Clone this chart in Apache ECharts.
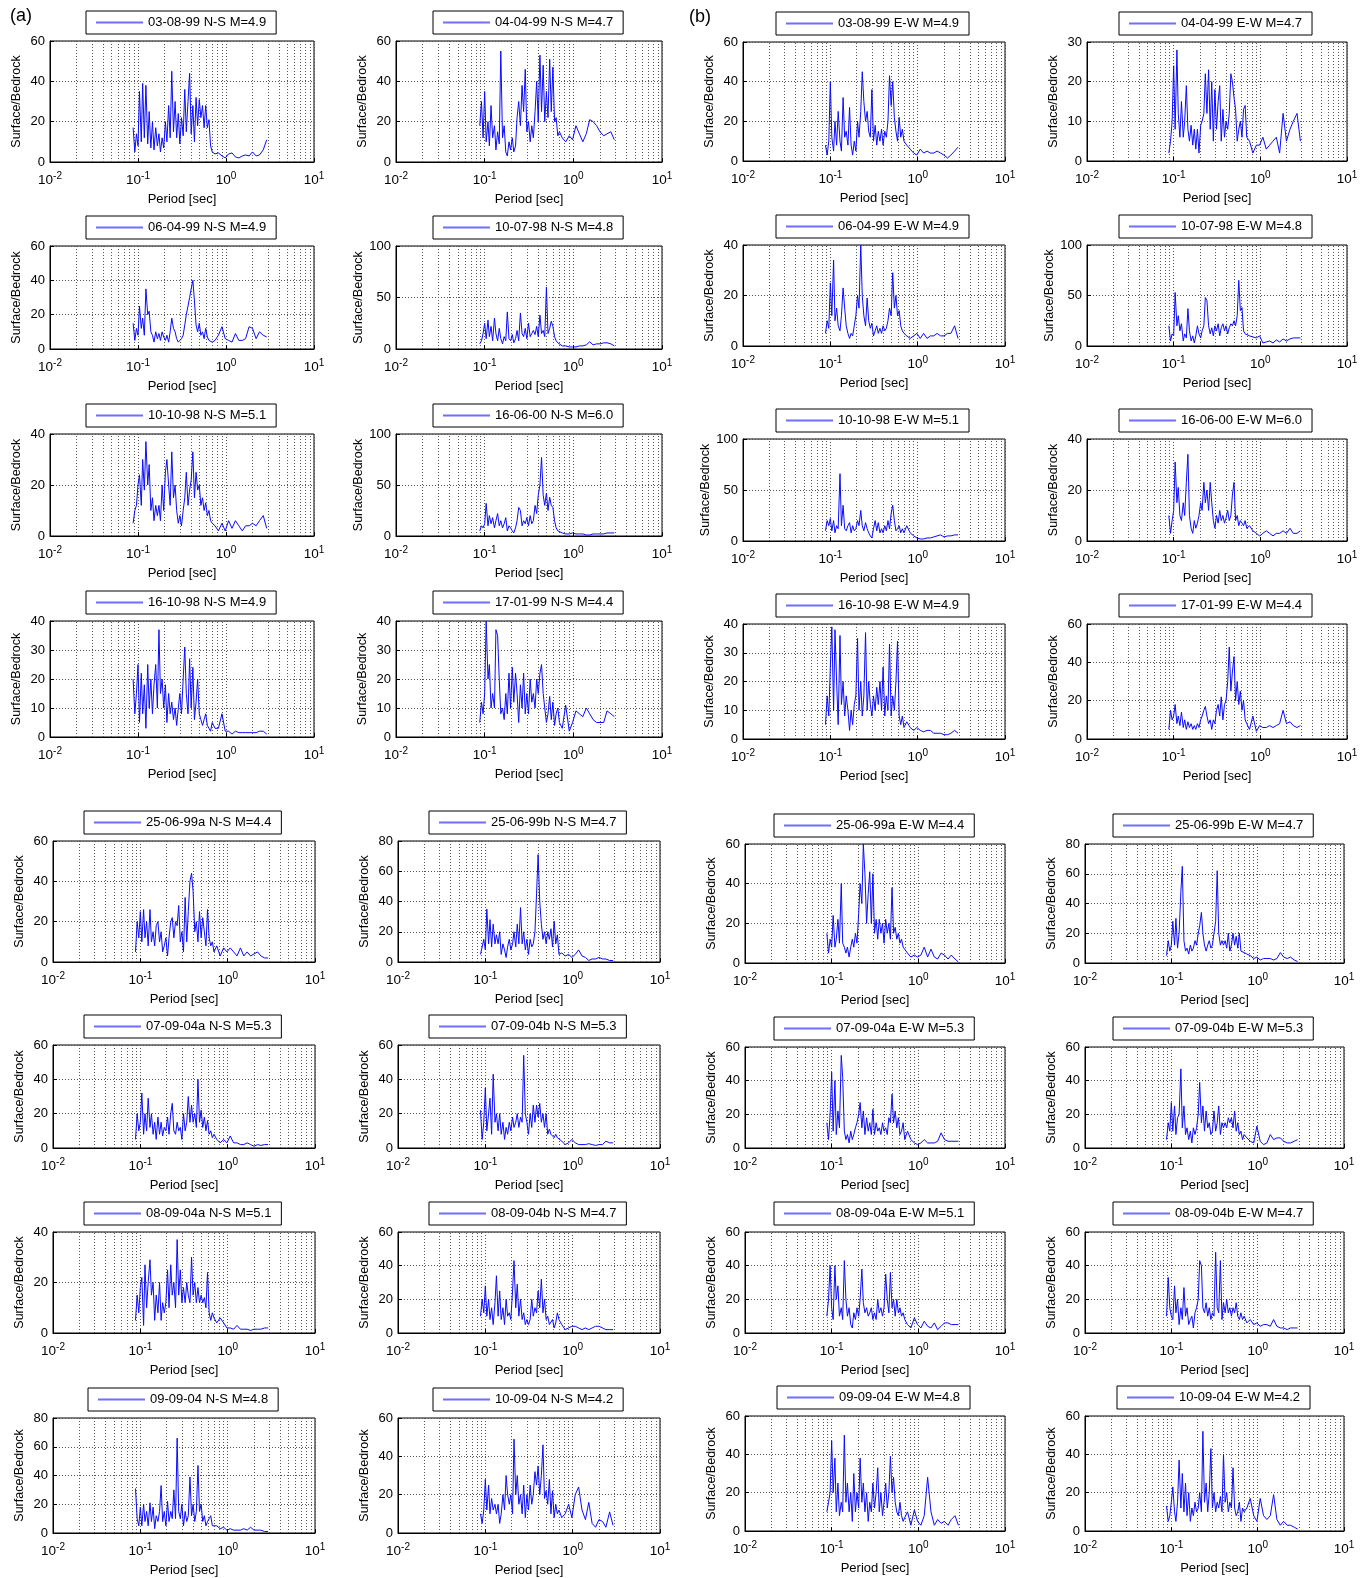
<!DOCTYPE html>
<html>
<head>
<meta charset="utf-8">
<title>Surface/Bedrock spectral ratios</title>
<script src="https://cdn.jsdelivr.net/npm/echarts@6/dist/echarts.min.js"></script>
<style>
  html, body { margin: 0; padding: 0; background: #ffffff; }
  #chart { width: 1364px; height: 1578px; }
</style>
</head>
<body>
<div id="chart"></div>
<script>
// Period samples [sec] shared by every spectral ratio curve
const periods = [
  0.088, 0.092, 0.096, 0.100, 0.104, 0.109, 0.113, 0.118, 0.123, 0.129,
  0.134, 0.140, 0.146, 0.152, 0.159, 0.166, 0.173, 0.180, 0.188, 0.196,
  0.205, 0.213, 0.223, 0.232, 0.242, 0.253, 0.264, 0.275, 0.287, 0.299,
  0.312, 0.326, 0.340, 0.354, 0.370, 0.386, 0.402, 0.420, 0.438, 0.457,
  0.476, 0.497, 0.518, 0.541, 0.564, 0.588, 0.614, 0.640, 0.668, 0.697,
  0.75, 0.82, 0.90, 0.98, 1.07, 1.17, 1.28, 1.40, 1.53, 1.67,
  1.83, 2.00, 2.20, 2.40, 2.65, 2.90
];

// Minor (2..9) decade lines of the log grid
const minorPeriods = [0.02, 0.03, 0.04, 0.05, 0.06, 0.07, 0.08, 0.09,
                      0.2, 0.3, 0.4, 0.5, 0.6, 0.7, 0.8, 0.9,
                      2, 3, 4, 5, 6, 7, 8, 9];

// ---- (a) N-S component ratios ----
const ns_030899 = [17,5,14,8,35,10,39,12,38,9, 25,7,20,6,17,8,14,5,12,7, 20,10,28,12,45,15,30,12,24,9, 22,13,36,15,30,44,14,28,10,32, 18,31,22,28,17,28,17,21,8,5, 4,4.5,3,2,4,4.5,2.5,2,3,3.5, 3,5,3,3.5,6,11];
const ns_040499 = [18,30,12,35,10,20,8,28,12,18, 6,15,9,55,12,18,5,3,10,6, 12,5,8,22,30,18,38,25,46,15, 20,10,18,12,25,40,20,53,25,48, 20,35,22,51,25,47,20,22,13,15, 12,10,13,11,18,14,10,14,21,20, 18,15,13,14,15,11];
const ns_060499 = [15,5,12,8,25,12,18,8,35,20, 22,10,8,4,10,6,9,5,10,7, 5,8,4,10,18,12,10,6,4,3, 6,8,14,20,25,30,35,40,28,14, 10,15,8,10,6,12,7,5,6,4, 5,8,13,6,5,4,9,5,5,6, 13,12,6,10,8,7];
const ns_100798 = [5,8,15,25,10,28,12,22,8,30, 15,8,20,10,5,12,8,36,10,8, 14,6,10,18,8,35,15,12,20,10, 25,12,15,18,14,22,12,33,15,18, 12,60,15,20,27,22,12,8,6,5, 3,3,2,2,2,3,3,4,7,4, 5,5,6,6,5,3];
const ns_101098 = [5,10,12,20,24,12,30,18,37,20, 28,10,15,6,12,8,12,6,20,10, 25,30,20,12,33,15,20,10,5,8, 4,10,15,25,12,18,22,33,15,25, 18,20,12,15,10,13,8,10,6,5, 4,2,5,2,6,3,6,4,2,4, 4,5,4,6,8,3];
const ns_160600 = [5,10,8,12,32,10,20,12,18,8, 15,22,10,15,8,12,18,5,10,8, 5,3,8,15,28,25,10,15,12,18, 10,20,12,15,30,22,40,50,77,40, 30,42,25,38,30,28,15,8,5,4, 3,2,2,3,2,2,2,1,1,2, 2,2,2,3,3,3];
const ns_161098 = [20,8,15,25,5,22,8,18,3,25, 10,20,8,18,25,10,37,15,20,10, 18,5,15,8,12,6,10,4,10,15, 8,20,31,15,8,27,10,24,6,12, 20,8,6,4,6,8,4,3,2,5, 3,3,8,2,2,1,2,1.5,1.5,1.5, 1.5,1.5,1.5,2,2,1];
const ns_170199 = [5,12,8,15,40,20,25,10,15,10, 37,35,20,8,10,6,15,8,22,10, 24,12,22,15,5,18,10,22,8,15, 8,20,12,15,10,20,15,22,25,15, 10,5,8,14,6,12,4,8,10,5, 3,11,2,5,9,8,7,10,8,6, 5,5,5,9,8,7];
const ns_250699a = [5,20,12,25,10,26,12,20,8,26, 10,15,8,18,20,10,15,5,8,12, 3,12,20,22,12,20,18,28,10,15, 5,32,10,25,40,44,35,15,20,10, 25,12,22,15,8,26,12,8,10,5, 8,3,7,5,7,5,3,7,3,5, 3,4,5,3,2,2];
const ns_250699b = [5,10,15,8,35,12,28,10,25,12, 18,12,20,5,12,8,3,10,15,8, 12,20,10,25,12,36,12,20,8,15, 5,15,10,12,20,45,71,40,25,15, 20,12,20,15,22,10,27,12,18,5, 6,4,5,3,5,8,4,3,1,2, 2,3,2,2,1,1];
const ns_070904a = [5,20,10,15,32,8,20,10,29,12, 20,8,15,5,18,8,15,7,12,10, 18,8,20,26,10,8,15,10,12,5, 20,10,15,30,15,25,15,20,12,40, 15,22,12,18,10,16,8,10,6,8, 5,3,5,3,7,3,3,2,2,3, 2,1,2,1.5,2,2];
const ns_070904b = [22,5,15,35,10,20,29,8,43,15, 20,10,20,8,15,5,12,8,15,10, 18,12,15,20,12,18,15,54,20,15, 8,20,12,25,15,25,18,26,15,20, 12,20,8,11,8,9,6,8,6,5, 4,2,3,5,3,2,2,2,2.5,2, 1.5,2,2,4,3,3];
const ns_080904a = [5,15,8,18,22,3,27,10,20,29, 15,20,5,15,8,20,5,12,8,12, 25,10,27,15,20,10,37,15,25,12, 18,12,20,15,12,30,15,20,12,18, 12,15,12,14,10,24,8,5,8,6, 4,6,4,2,2,1.5,3,1.5,1.5,1.5, 1,1.5,1.5,1.5,2,2];
const ns_080904b = [10,20,12,28,10,20,8,15,5,18, 34,10,25,8,15,5,20,10,12,8, 25,43,15,29,10,20,8,12,5,8, 5,8,20,10,15,12,25,15,32,12, 20,8,10,5,6,8,3,6,12,8, 5,2,3,4,4,3,2,3,2,3, 4,4,3,2,2,2];
const ns_090904 = [31,10,5,18,5,20,8,15,5,21, 8,18,3,12,8,15,33,8,15,5, 22,8,15,10,30,10,66,15,10,20, 5,15,8,12,39,12,20,8,15,47, 15,20,8,12,5,8,10,12,5,6, 5,3,4,2,3,2,2,2,3,2, 4,2,2,2,1,1];
const ns_100904 = [10,5,12,28,12,25,10,18,12,15, 10,15,5,10,20,12,30,20,15,20, 10,49,20,30,15,20,10,25,8,20, 12,25,15,20,32,25,35,20,30,46, 18,22,15,28,10,22,8,15,10,12, 8,10,15,8,20,24,12,7,16,5, 3,7,6,3,11,4];

// ---- (b) E-W component ratios ----
const ew_030899 = [8,3,10,40,12,5,20,8,25,10, 5,32,12,15,8,27,8,3,10,5, 20,12,25,45,30,20,25,15,12,36, 10,18,8,15,10,16,8,15,12,20, 43,28,40,22,15,10,22,12,16,10, 8,6,4,3,6,4,5,4,4,5, 4,3,1.5,3,5,7];
const ew_040499 = [2,5,10,24,8,28,12,6,15,6, 10,19,8,5,9,4,8,3,8,2, 9,10,12,22,12,23,8,20,5,18, 8,15,19,5,13,6,10,8,12,22, 20,16,13,5,8,10,6,13,14,6, 5,2,4,4,6,3,4,5,6,2, 12,5,8,10,12,5];
const ew_060499 = [5,10,7,25,12,34,10,15,8,6, 12,23,15,8,5,3,5,4,8,12, 20,15,40,20,12,8,19,10,7,9, 4,6,8,5,7,5,8,6,7,10, 15,12,29,15,20,12,14,8,6,5, 4,3,4,5,3,5,3,4,4,5, 4,4,5,5,8,3];
const ew_100798 = [20,5,12,10,53,20,30,15,22,5, 12,8,37,15,5,10,3,10,20,12, 8,15,20,48,45,20,12,18,10,20, 15,22,10,18,22,15,20,12,18,22, 20,25,20,30,65,35,38,15,12,12, 10,9,8,10,3,4,5,3,6,4, 7,5,7,8,8,8];
const ew_101098 = [10,20,15,22,10,20,8,15,12,66, 15,35,12,10,15,18,8,15,10,12, 20,15,30,15,10,18,12,8,5,3, 12,20,10,18,8,12,8,15,10,20, 12,27,35,20,10,12,15,8,12,8, 15,8,5,3,2,2,3,3,4,5, 6,4,5,5,6,6];
const ew_160600 = [10,3,8,12,31,15,21,10,8,15, 10,23,34,10,5,3,8,5,7,10, 15,12,23,15,20,12,23,15,8,5, 10,7,12,8,10,7,9,12,8,10, 18,23,8,10,6,8,7,6,8,5, 6,4,3,2,3,4,3,2,3,3, 4,3,5,3,3,4];
const ew_161098 = [5,15,8,25,39,10,38,20,5,36, 12,20,8,15,10,3,10,5,12,15, 35,10,20,8,15,37,10,20,12,8, 15,10,18,12,20,10,25,8,15,10, 33,8,15,10,20,34,8,5,8,4, 6,4,3,4,3,2.5,3,3,2,2, 2,1.5,1.5,2,3,2];
const ew_170199 = [5,15,10,12,18,8,12,7,14,6, 10,5,9,6,8,5,7,5,8,6, 10,12,15,17,12,8,10,5,10,8, 15,18,12,22,10,18,20,30,48,25, 35,43,20,30,18,25,15,20,10,8, 5,12,4,7,6,6,7,6,7,8, 15,8,9,7,6,7];
const ew_250699a = [15,5,12,8,24,8,12,22,10,40, 10,8,5,8,3,8,12,8,15,10, 25,40,30,60,45,20,35,46,20,45, 15,22,12,22,15,20,10,22,15,20, 12,38,15,18,12,15,10,12,8,8, 5,3,4,3,4,8,3,7,3,2, 5,4,2,4,2,0.5];
const ew_250699b = [5,15,8,12,28,12,30,10,20,48, 65,15,8,10,6,12,8,10,15,12, 20,25,34,20,12,8,12,15,10,12, 20,28,62,20,12,15,12,15,10,20, 8,12,20,12,18,10,20,8,8,7, 6,5,3,4,2,3,3,3,2,3, 7,4,3,4,2,1];
const ew_070904a = [15,5,20,45,10,40,8,22,12,55, 42,10,5,8,3,10,5,8,12,15, 20,27,12,22,8,18,10,15,8,23, 8,15,10,12,8,15,10,12,8,18, 15,32,15,22,12,18,8,10,15,5, 10,5,3,2,3,5,3,3,3,4, 9,5,4,4,4,4];
const ew_070904b = [5,15,10,27,10,25,8,18,20,47, 12,25,8,12,5,10,3,12,8,12, 20,39,15,25,10,22,12,15,8,10, 22,10,15,25,8,15,12,15,12,18, 15,18,12,22,10,15,8,10,5,8, 6,4,3,13,4,2,3,8,5,6, 6,4,3,3,4,5];
const ew_080904a = [10,20,40,15,8,40,20,28,10,15, 8,43,20,10,15,5,3,12,8,15, 10,20,38,18,12,15,10,12,15,8, 12,8,20,12,15,10,15,35,20,12, 36,15,20,10,20,12,15,10,12,8, 5,3,9,5,3,7,4,3,6,2, 4,6,6,5,5,5];
const ew_080904b = [10,33,15,10,8,28,12,20,5,15, 8,27,10,15,5,8,10,3,12,15, 20,43,40,15,12,18,10,15,8,12, 10,48,15,12,43,8,18,12,20,12, 15,10,15,12,18,10,8,12,8,10, 6,8,5,6,4,5,5,4,8,4, 3,3,2,3,3,3];
const ew_090904 = [10,15,20,47,20,38,10,25,8,15, 10,50,15,25,10,20,5,30,10,20, 12,38,15,25,10,20,5,15,10,25, 12,20,33,10,20,8,15,25,12,20, 39,20,28,15,10,8,15,8,5,7, 10,3,11,5,3,8,28,10,3,6, 4,5,3,6,8,3];
const ew_100904 = [13,5,8,15,23,10,5,15,37,12, 30,10,25,8,20,5,12,8,15,10, 12,20,10,52,15,25,10,20,43,12, 20,10,15,12,18,10,40,15,20,10, 15,12,33,12,8,10,15,5,12,10, 12,17,8,5,17,8,6,8,19,6, 3,5,3,3,2,1];

// Panels in reading order (four per row)
const panelNames = [
  '03-08-99 N-S M=4.9', '04-04-99 N-S M=4.7', '03-08-99 E-W M=4.9', '04-04-99 E-W M=4.7',
  '06-04-99 N-S M=4.9', '10-07-98 N-S M=4.8', '06-04-99 E-W M=4.9', '10-07-98 E-W M=4.8',
  '10-10-98 N-S M=5.1', '16-06-00 N-S M=6.0', '10-10-98 E-W M=5.1', '16-06-00 E-W M=6.0',
  '16-10-98 N-S M=4.9', '17-01-99 N-S M=4.4', '16-10-98 E-W M=4.9', '17-01-99 E-W M=4.4',
  '25-06-99a N-S M=4.4', '25-06-99b N-S M=4.7', '25-06-99a E-W M=4.4', '25-06-99b E-W M=4.7',
  '07-09-04a N-S M=5.3', '07-09-04b N-S M=5.3', '07-09-04a E-W M=5.3', '07-09-04b E-W M=5.3',
  '08-09-04a N-S M=5.1', '08-09-04b N-S M=4.7', '08-09-04a E-W M=5.1', '08-09-04b E-W M=4.7',
  '09-09-04 N-S M=4.8', '10-09-04 N-S M=4.2', '09-09-04 E-W M=4.8', '10-09-04 E-W M=4.2'
];
const panelValues = [
  ns_030899, ns_040499, ew_030899, ew_040499,
  ns_060499, ns_100798, ew_060499, ew_100798,
  ns_101098, ns_160600, ew_101098, ew_160600,
  ns_161098, ns_170199, ew_161098, ew_170199,
  ns_250699a, ns_250699b, ew_250699a, ew_250699b,
  ns_070904a, ns_070904b, ew_070904a, ew_070904b,
  ns_080904a, ns_080904b, ew_080904a, ew_080904b,
  ns_090904, ns_100904, ew_090904, ew_100904
];
// y-axis upper limits and tick steps
const yAxisMax = [
  60, 60, 60, 30,
  60, 100, 40, 100,
  40, 100, 100, 40,
  40, 40, 40, 60,
  60, 80, 60, 80,
  60, 60, 60, 60,
  40, 60, 60, 60,
  80, 60, 60, 60
];
const yAxisStep = [
  20, 20, 20, 10,
  20, 50, 20, 50,
  20, 50, 50, 20,
  10, 10, 10, 20,
  20, 20, 20, 20,
  20, 20, 20, 20,
  20, 20, 20, 20,
  20, 20, 20, 20
];

// ---- layout (pixels) ----
const FONT = '"Liberation Sans", Arial, Helvetica, sans-serif';
const colSpanUpper = [[50, 314], [396, 662], [743, 1005], [1087, 1347]];
const colSpanLower = [[53, 315], [398, 660], [745, 1005], [1085, 1344]];
const rowSpanA = [[41, 162], [246, 349], [434, 536], [621, 737], [841, 962], [1045, 1148], [1232, 1333], [1418, 1533]];
const rowSpanB = [[42, 161], [245, 346], [439, 541], [624, 739], [844, 963], [1047, 1148], [1232, 1333], [1416, 1531]];

const LINE_COLOR = '#0a0aff';
const LEGEND_LINE = '#6f6fff';
const GRID_COLOR = '#555555';
const LEGEND_FONT = 13;

const measure = document.createElement('canvas').getContext('2d');
measure.font = LEGEND_FONT + 'px ' + FONT;

const grids = [], xAxes = [], yAxes = [], series = [], legends = [];

panelNames.forEach(function (name, i) {
  const r = Math.floor(i / 4), c = i % 4;
  const cols = r < 4 ? colSpanUpper : colSpanLower;
  const rows = c < 2 ? rowSpanA : rowSpanB;
  const x0 = cols[c][0], x1 = cols[c][1];
  const y0 = rows[r][0], y1 = rows[r][1];

  grids.push({
    left: x0, top: y0, width: x1 - x0, height: y1 - y0,
    show: true, borderColor: '#000', borderWidth: 1, backgroundColor: '#fff',
    containLabel: false
  });

  xAxes.push({
    gridIndex: i, type: 'log', logBase: 10, min: 0.01, max: 10, splitNumber: 3,
    name: 'Period [sec]', nameLocation: 'middle', nameGap: 31,
    nameTextStyle: { fontSize: 13, fontFamily: FONT, color: '#000' },
    axisLine: { show: true, onZero: false, lineStyle: { color: '#000', width: 1 } },
    axisTick: { show: true, inside: true, length: 4, lineStyle: { color: '#000' } },
    splitLine: { show: true, lineStyle: { type: [1, 2], color: GRID_COLOR, width: 1 } },
    axisLabel: {
      show: true, margin: 9, showMinLabel: true, showMaxLabel: true,
      formatter: function (v) {
        return '{b|10}{s|' + Math.round(Math.log10(v)) + '}';
      },
      rich: {
        b: { fontSize: 13.5, fontFamily: FONT, color: '#000', lineHeight: 16, verticalAlign: 'bottom' },
        s: { fontSize: 10, fontFamily: FONT, color: '#000', lineHeight: 2, verticalAlign: 'top' }
      }
    }
  });

  yAxes.push({
    gridIndex: i, type: 'value', min: 0, max: yAxisMax[i], interval: yAxisStep[i],
    name: 'Surface/Bedrock', nameLocation: 'middle', nameGap: 27,
    nameTextStyle: { fontSize: 12.5, fontFamily: FONT, color: '#000' },
    axisLine: { show: true, lineStyle: { color: '#000', width: 1 } },
    axisTick: { show: true, inside: true, length: 4, lineStyle: { color: '#000' } },
    splitLine: { show: true, lineStyle: { type: [1, 2], color: GRID_COLOR, width: 1 } },
    axisLabel: { fontSize: 13, fontFamily: FONT, color: '#000', margin: 5 }
  });

  const vals = panelValues[i];
  series.push({
    type: 'line', name: name, xAxisIndex: i, yAxisIndex: i,
    data: periods.map(function (p, k) { return [p, vals[k]]; }),
    symbol: 'none', showSymbol: false, silent: true, animation: false,
    lineStyle: { color: LINE_COLOR, width: 1 },
    itemStyle: { color: LINE_COLOR },
    z: 3,
    markLine: {
      silent: true, animation: false, symbol: ['none', 'none'], z: 1,
      label: { show: false }, emphasis: { disabled: true },
      lineStyle: { type: [1, 2], color: GRID_COLOR, width: 1 },
      data: minorPeriods.map(function (p) { return { xAxis: p }; })
    }
  });

  const textW = measure.measureText(name).width;
  const boxW = 10 + 47 + 5 + textW + 10 + 2;
  legends.push({
    data: [name], selectedMode: false,
    left: Math.round((x0 + x1) / 2 - boxW / 2), top: y0 - 30,
    padding: [4, 10, 4, 10], itemWidth: 47, itemHeight: 2, icon: 'rect',
    itemStyle: { color: LEGEND_LINE, borderWidth: 0 },
    borderColor: '#000', borderWidth: 1, backgroundColor: '#fff',
    textStyle: { fontSize: LEGEND_FONT, fontFamily: FONT, color: '#000', lineHeight: 15 }
  });
});

const chart = echarts.init(document.getElementById('chart'), null, { renderer: 'canvas' });
chart.setOption({
  animation: false,
  backgroundColor: '#ffffff',
  title: [
    { text: '(a)', left: 10, top: 7, padding: 0, textStyle: { fontSize: 18, fontWeight: 'normal', fontFamily: FONT, color: '#000' } },
    { text: '(b)', left: 689, top: 8, padding: 0, textStyle: { fontSize: 18, fontWeight: 'normal', fontFamily: FONT, color: '#000' } }
  ],
  legend: legends,
  grid: grids,
  xAxis: xAxes,
  yAxis: yAxes,
  series: series
});
</script>
</body>
</html>
